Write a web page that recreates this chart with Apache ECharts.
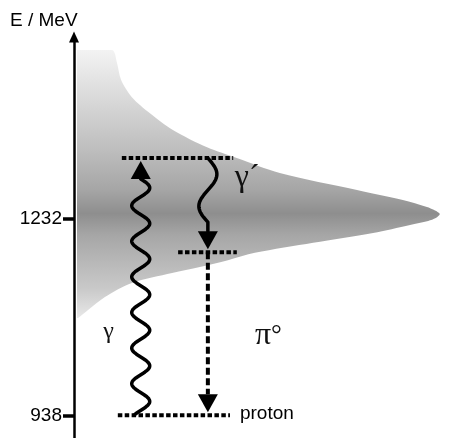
<!DOCTYPE html>
<html>
<head>
<meta charset="utf-8">
<script src="https://cdn.jsdelivr.net/npm/echarts@6/dist/echarts.min.js"></script>
<style>
  html, body { margin: 0; padding: 0; background: #fff; }
  #main { width: 476px; height: 438px; }
</style>
</head>
<body>
<div id="main"></div>
<script>
// Delta resonance band: energy (MeV) and width (arb. units)
const bandEnergy = [1484.5, 1465, 1440, 1414, 1390, 1365, 1339, 1323, 1300.5, 1275, 1260, 1249.6, 1245, 1239, 1233, 1228.7, 1222.7, 1210.7, 1196, 1181, 1170, 1160, 1151, 1136, 1115, 1095.5, 1083.5];
const bandWidth = [9.5, 10.7, 11.7, 14.4, 18.9, 24.6, 33.1, 40.5, 51.2, 70.4, 81.8, 87.8, 89.6, 91.0, 90.0, 88.1, 83.6, 74.4, 59.5, 45.0, 38.3, 31.3, 24.4, 14.4, 7.7, 3.5, 1.0];
const bandEdge = 0.75;
const bandEdgeEnergy = [1083.5, 1150, 1230, 1320, 1400, 1484.5];

// energy levels
const levelName = ['', '', 'proton'];
const levelEnergy = [1323, 1182, 938];
const levelFrom = [11.9, 25.9, 10.9];
const levelTo = [39.6, 40.5, 38.8];

// transitions between levels
const transX = [16.6, 33.3, 33.3];
const transFrom = [938, 1323, 1182];
const transTo = [1323, 1182, 938];
const transKind = ['photon', 'photon', 'meson'];

// particle labels
const labelText = ['{s|γ}', '{m|γ´}', '{m|π}{d|°}'];
const labelX = [8.6, 40.0, 45.0];
const labelEnergy = [1063, 1294, 1057];

// axis ticks
const tickValues = [938, 1232];

const wave = [
  { amp: 9, period: 35.6, stem: 0, side: 1 },
  { amp: 9, period: 64, stem: 9, side: -1 }
];

const chart = echarts.init(document.getElementById('main'));

const bandFill = new echarts.graphic.LinearGradient(0, 0, 0, 1, [
  { offset: 0, color: '#f3f3f3' },
  { offset: 0.19, color: '#d8d8d8' },
  { offset: 0.37, color: '#bebebe' },
  { offset: 0.52, color: '#a6a6a6' },
  { offset: 0.61, color: '#8e8e8e' },
  { offset: 0.69, color: '#a6a6a6' },
  { offset: 0.78, color: '#b6b6b6' },
  { offset: 0.89, color: '#c9c9c9' },
  { offset: 1, color: '#e8e8e8' }
]);

function renderBand(params, api) {
  if (params.dataIndex !== 0) return null;
  const pts = [];
  bandEnergy.forEach((e, i) => pts.push(api.coord([bandWidth[i], e])));
  bandEdgeEnergy.forEach(e => pts.push(api.coord([bandEdge, e])));
  const xs = pts.map(p => p[0]), ys = pts.map(p => p[1]);
  const box = [[Math.min(...xs), Math.min(...ys)], [Math.max(...xs), Math.max(...ys)]];
  return { type: 'polygon', shape: { points: pts, smooth: 0.3, smoothConstraint: box }, style: { fill: bandFill } };
}

function renderLevel(params, api) {
  const e = api.value(2);
  const a = api.coord([api.value(0), e]);
  const b = api.coord([api.value(1), e]);
  const kids = [{
    type: 'line',
    shape: { x1: a[0], y1: a[1], x2: b[0], y2: b[1] },
    style: { stroke: '#000', lineWidth: 4, lineDash: [4.5, 2.4] }
  }];
  const name = levelName[params.dataIndex];
  if (name) {
    kids.push({
      type: 'text', x: b[0] + 10, y: b[1] - 2,
      style: { text: name, font: '19px "Liberation Sans"', fill: '#000',
        align: 'left', verticalAlign: 'middle', textAlign: 'left', textVerticalAlign: 'middle' }
    });
  }
  return { type: 'group', children: kids };
}

function renderTransition(params, api) {
  const i = params.dataIndex;
  const top = api.coord([api.value(0), api.value(1)]);
  const end = api.coord([api.value(0), api.value(2)]);
  const cx = top[0];
  const y0 = top[1], y1 = end[1];
  const sgn = y1 > y0 ? 1 : -1;
  const tip = y1 - sgn * 3;
  const base = tip - sgn * 18;
  const kids = [];
  if (transKind[i] === 'photon') {
    const w = wave[i];
    const len = Math.abs(base - y0);
    const pts = [];
    for (let d = 0; d <= len; d += 1) {
      const s = d < w.stem ? 0 : Math.sin(2 * Math.PI * (d - w.stem) / w.period);
      pts.push([cx + w.side * w.amp * s, base - sgn * d]);
    }
    kids.push({ type: 'polyline', shape: { points: pts },
      style: { stroke: '#000', lineWidth: 3.5, fill: null, lineCap: 'round', lineJoin: 'round' } });
  } else {
    kids.push({ type: 'line', shape: { x1: cx, y1: y0, x2: cx, y2: base },
      style: { stroke: '#000', lineWidth: 4, lineDash: [7, 3.5] } });
  }
  kids.push({ type: 'polygon', shape: { points: [[cx, tip], [cx - 10, base], [cx + 10, base]] },
    style: { fill: '#000' } });
  return { type: 'group', children: kids };
}

function renderLabel(params, api) {
  const p = api.coord([api.value(0), api.value(1)]);
  const i = params.dataIndex;
  return {
    type: 'text', x: p[0], y: p[1],
    style: {
      text: labelText[i], fill: '#111',
      align: i === 0 ? 'center' : 'left', textAlign: i === 0 ? 'center' : 'left',
      verticalAlign: 'middle', textVerticalAlign: 'middle',
      rich: {
        s: { fontFamily: 'Liberation Serif', fontSize: 24, fill: '#111' },
        m: { fontFamily: 'Liberation Serif', fontSize: 32, fill: '#111' },
        d: { fontFamily: 'Liberation Serif', fontSize: 27, fill: '#111', verticalAlign: 'middle' }
      }
    }
  };
}

const option = {
  animation: false,
  title: {
    text: 'E / MeV', left: 10, top: 11, padding: 0,
    textStyle: { fontFamily: 'Liberation Sans', fontSize: 19, fontWeight: 'normal', color: '#000' }
  },
  grid: { left: 74, right: 0, top: 37, bottom: 0 },
  xAxis: { type: 'value', min: 0, max: 100, show: false },
  yAxis: {
    type: 'value', min: 904, max: 1504,
    axisLine: { show: true, lineStyle: { color: '#000', width: 2.5 }, symbol: ['none', 'triangle'], symbolSize: [10, 11] },
    axisTick: { show: true, customValues: tickValues, length: 11, lineStyle: { color: '#000', width: 3.5 } },
    axisLabel: { customValues: tickValues, margin: 12, fontFamily: 'Liberation Sans', fontSize: 19, color: '#000',
      formatter: v => String(v) },
    splitLine: { show: false }
  },
  series: [
    { type: 'custom', renderItem: renderBand, data: [[0, 0]], z: 1, silent: true },
    { type: 'custom', renderItem: renderLevel, z: 2, silent: true,
      data: levelEnergy.map((e, i) => [levelFrom[i], levelTo[i], e]) },
    { type: 'custom', renderItem: renderTransition, z: 3, silent: true,
      data: transX.map((x, i) => [x, transFrom[i], transTo[i]]) },
    { type: 'custom', renderItem: renderLabel, z: 4, silent: true,
      data: labelX.map((x, i) => [x, labelEnergy[i]]) }
  ]
};

chart.setOption(option);
</script>
</body>
</html>
